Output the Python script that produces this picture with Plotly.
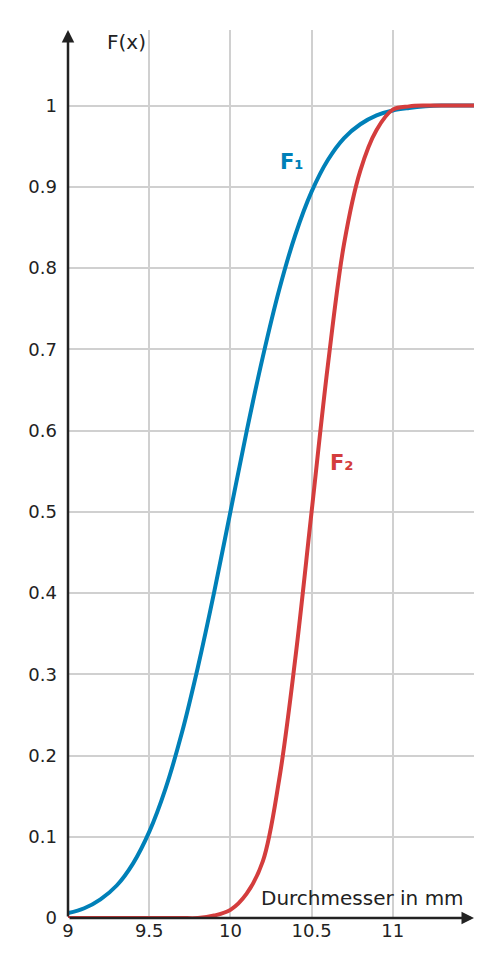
import plotly.graph_objects as go

x = [9.0, 9.1, 9.2, 9.3, 9.4, 9.5, 9.6, 9.7, 9.8, 9.9, 10.0, 10.1, 10.2, 10.3, 10.4,
     10.5, 10.6, 10.7, 10.8, 10.9, 11.0, 11.1, 11.2, 11.3, 11.5]
f1 = [0.006, 0.012, 0.023, 0.040, 0.067, 0.106, 0.159, 0.227, 0.309, 0.401, 0.5, 0.599,
      0.691, 0.773, 0.841, 0.894, 0.933, 0.960, 0.977, 0.988, 0.994, 0.997, 0.999, 1.0, 1.0]
f2 = [0, 0, 0, 0, 0, 0, 0, 0, 0, 0.003, 0.01, 0.03, 0.07, 0.17, 0.32,
      0.5, 0.68, 0.83, 0.92, 0.97, 0.995, 0.999, 1.0, 1.0, 1.0]
xticks = [9, 9.5, 10, 10.5, 11]
yticks = [0, 0.1, 0.2, 0.3, 0.4, 0.5, 0.6, 0.7, 0.8, 0.9, 1]

blue = "#0080b8"
red = "#d43d3d"
fig = go.Figure()
fig.add_trace(go.Scatter(x=x, y=f1, mode="lines", line=dict(color=blue, width=4, shape="spline")))
fig.add_trace(go.Scatter(x=x, y=f2, mode="lines", line=dict(color=red, width=4, shape="spline")))

fig.update_layout(
    width=484, height=959, plot_bgcolor="white", paper_bgcolor="white", showlegend=False,
    margin=dict(l=60, r=18, t=22, b=49),
    font=dict(family="DejaVu Sans", size=18, color="#222"),
    xaxis=dict(range=[9, 11.5], tickvals=xticks, ticktext=[str(v) for v in xticks],
               showgrid=True, gridcolor="#d0d0d0", gridwidth=1.5, zeroline=False,
               showline=False, ticks="", automargin=False),
    yaxis=dict(range=[0, 1.093], tickvals=yticks, ticktext=[f"{v:g}" for v in yticks],
               showgrid=True, gridcolor="#d0d0d0", gridwidth=1.5, zeroline=False,
               showline=False, ticks="", ticklabelstandoff=10, automargin=False),
)
# axes with arrows
fig.add_annotation(x=11.5, y=0, ax=9, ay=0, xref="x", yref="y", axref="x", ayref="y",
                   showarrow=True, arrowhead=2, arrowsize=1, arrowwidth=2.5, arrowcolor="#222", text="")
fig.add_annotation(x=9, y=1.093, ax=9, ay=0, xref="x", yref="y", axref="x", ayref="y",
                   showarrow=True, arrowhead=2, arrowsize=1, arrowwidth=2.5, arrowcolor="#222", text="")
fig.add_annotation(x=9.23, y=1.078, text="F(x)", showarrow=False, xanchor="left", font=dict(size=20))
fig.add_annotation(x=11.45, y=0.008, text="Durchmesser in mm", showarrow=False,
                   xanchor="right", yanchor="bottom", font=dict(size=20))
fig.add_annotation(x=10.38, y=0.93, text="<b>F₁</b>", showarrow=False, font=dict(color=blue, size=21))
fig.add_annotation(x=10.69, y=0.56, text="<b>F₂</b>", showarrow=False, font=dict(color=red, size=21))
fig.write_html("out.html")
